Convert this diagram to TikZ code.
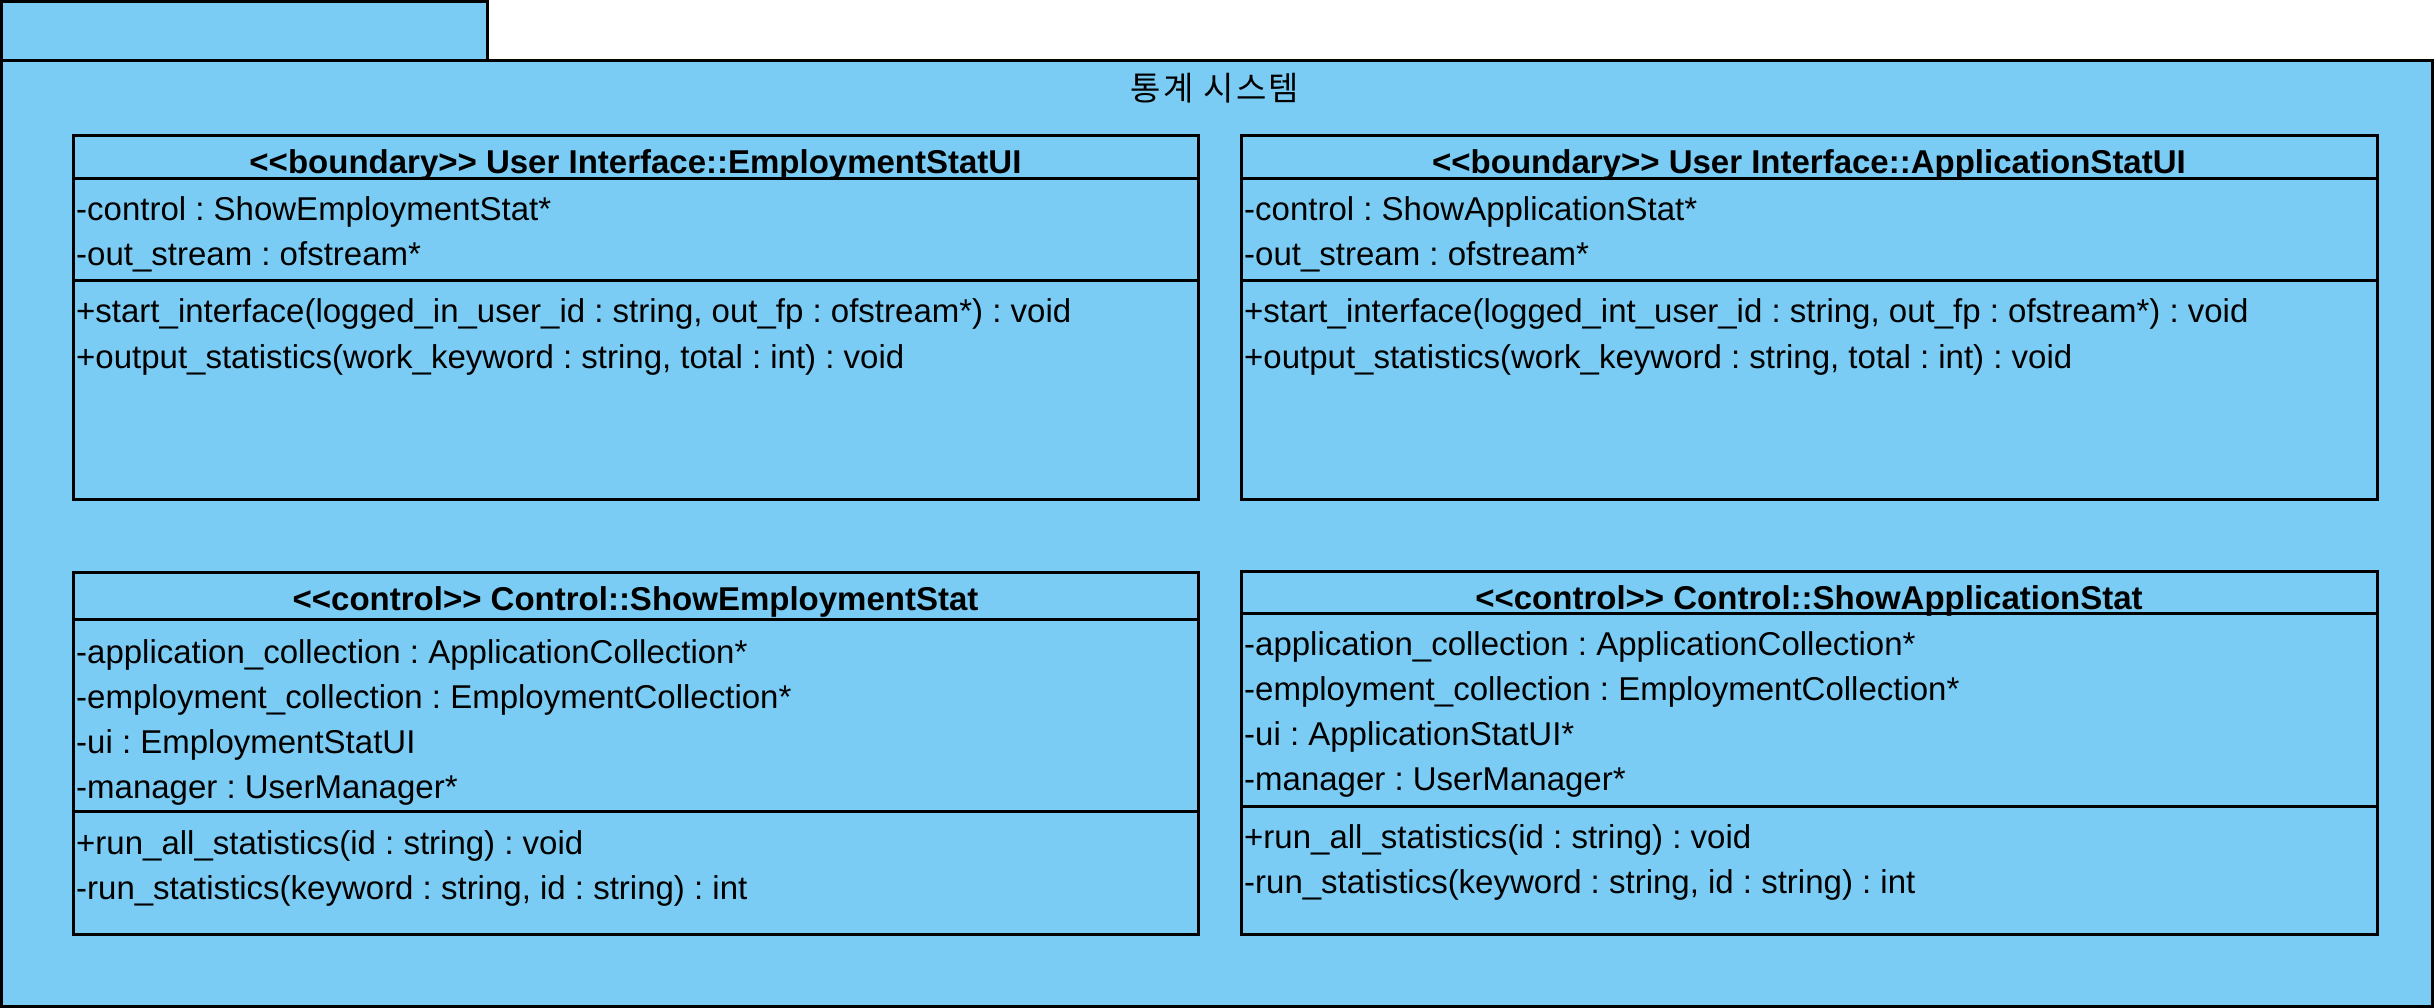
\documentclass[tikz,border=0pt]{standalone}
\usepackage{fontspec}
\setmainfont{Liberation Sans}
\newfontfamily\kofont{Noto Sans CJK KR}[LetterSpace=7]
\definecolor{pkgblue}{RGB}{122,204,244}
\frenchspacing
\begin{document}
\begin{tikzpicture}[x=1pt,y=-1pt,
  umlbox/.style={draw=black, line width=3pt, fill=pkgblue},
  sepline/.style={draw=black, line width=3pt},
  row/.style={anchor=base west, inner sep=0pt, font=\fontsize{33}{38}\selectfont},
  hdr/.style={anchor=base, inner sep=0pt, font=\fontsize{33}{38}\selectfont\bfseries}]
\useasboundingbox (0,0) rectangle (2436,1008);
% package
\path[umlbox] (1.5,2) rectangle (487,61);
\path[umlbox] (1.5,61) rectangle (2432,1006);
\node[inner sep=0pt, font=\kofont\fontsize{33}{38}\selectfont] (title) at (1215,88) {통계 시스템};
% box 1
\path[umlbox] (73,136) rectangle (1198,499);
\draw[sepline] (73,179) -- (1198,179);
\draw[sepline] (73,281) -- (1198,281);
\node[hdr] (h1) at (635.5,174) {<{}<boundary>{}> User Interface::EmploymentStatUI};
\node[row] (a11) at (76,221) {-control : ShowEmploymentStat*};
\node[row] (a12) at (76,266) {-out\_stream : ofstream*};
\node[row] (m11) at (76,323) {+start\_interface(logged\_in\_user\_id : string, out\_fp : ofstream*) : void};
\node[row] (m12) at (76,368) {+output\_statistics(work\_keyword : string, total : int) : void};
% box 2
\path[umlbox] (1241,136) rectangle (2377,499);
\draw[sepline] (1241,179) -- (2377,179);
\draw[sepline] (1241,281) -- (2377,281);
\node[hdr] (h2) at (1809,174) {<{}<boundary>{}> User Interface::ApplicationStatUI};
\node[row] (a21) at (1244,221) {-control : ShowApplicationStat*};
\node[row] (a22) at (1244,266) {-out\_stream : ofstream*};
\node[row] (m21) at (1244,323) {+start\_interface(logged\_int\_user\_id : string, out\_fp : ofstream*) : void};
\node[row] (m22) at (1244,368) {+output\_statistics(work\_keyword : string, total : int) : void};
% box 3
\path[umlbox] (73,572) rectangle (1198,934);
\draw[sepline] (73,619) -- (1198,619);
\draw[sepline] (73,811) -- (1198,811);
\node[hdr] (h3) at (635.5,610) {<{}<control>{}> Control::ShowEmploymentStat};
\node[row] (a31) at (76,663) {-application\_collection : ApplicationCollection*};
\node[row] (a32) at (76,708) {-employment\_collection : EmploymentCollection*};
\node[row] (a33) at (76,753) {-ui : EmploymentStatUI};
\node[row] (a34) at (76,798) {-manager : UserManager*};
\node[row] (m31) at (76,854) {+run\_all\_statistics(id : string) : void};
\node[row] (m32) at (76,899) {-run\_statistics(keyword : string, id : string) : int};
% box 4
\path[umlbox] (1241,571) rectangle (2377,934);
\draw[sepline] (1241,613) -- (2377,613);
\draw[sepline] (1241,806) -- (2377,806);
\node[hdr] (h4) at (1809,609) {<{}<control>{}> Control::ShowApplicationStat};
\node[row] (a41) at (1244,655) {-application\_collection : ApplicationCollection*};
\node[row] (a42) at (1244,700) {-employment\_collection : EmploymentCollection*};
\node[row] (a43) at (1244,745) {-ui : ApplicationStatUI*};
\node[row] (a44) at (1244,790) {-manager : UserManager*};
\node[row] (m41) at (1244,848) {+run\_all\_statistics(id : string) : void};
\node[row] (m42) at (1244,893) {-run\_statistics(keyword : string, id : string) : int};
\end{tikzpicture}
\end{document}
